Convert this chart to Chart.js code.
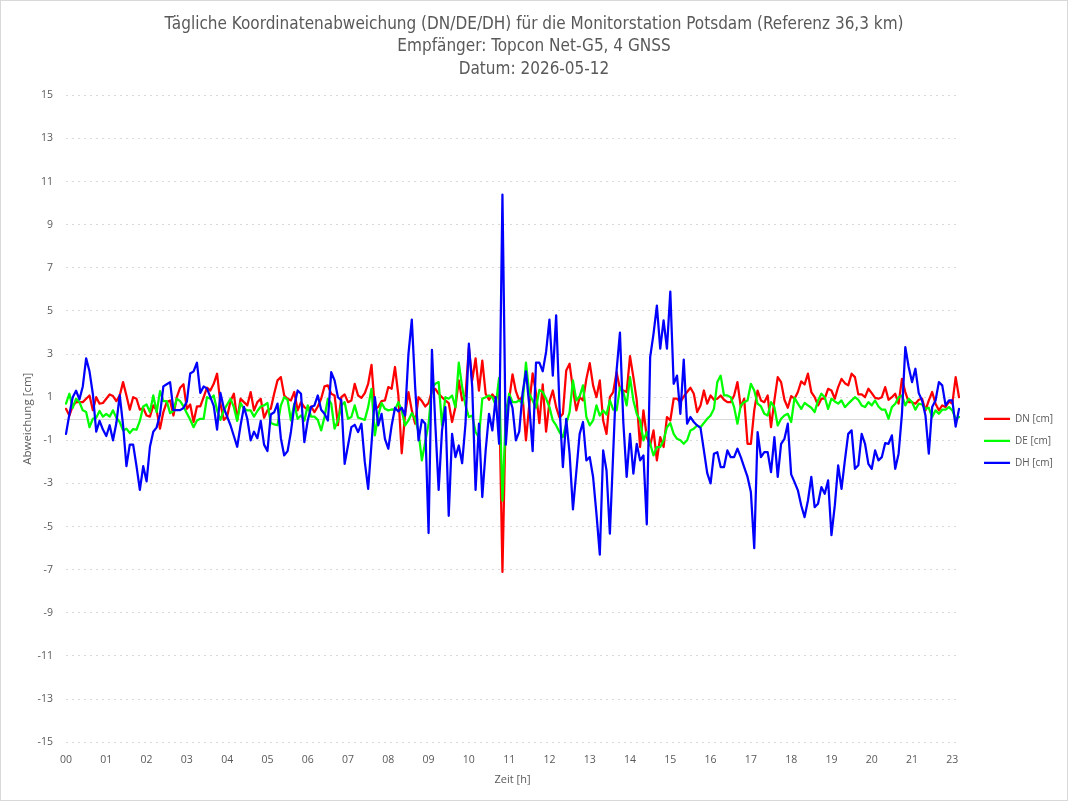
<!DOCTYPE html>
<html>
<head>
<meta charset="utf-8">
<script src="https://cdn.jsdelivr.net/npm/chart.js@4"></script>
<style>
  html, body { margin: 0; padding: 0; background: #fff; }
  #wrap { width: 1068px; height: 801px; box-sizing: border-box; border: 1px solid #d9d9d9; position: relative; }
  canvas { display: block; }
</style>
</head>
<body>
<div id="wrap"><canvas id="devChart" width="1066" height="799"></canvas></div>
<script>
// Zeitachse: 5-Minuten-Epochen, Stunde 22 fehlt in den Daten
const hours = ['00','01','02','03','04','05','06','07','08','09','10','11','12','13','14','15','16','17','18','19','20','21'];
const minutes = ['00','05','10','15','20','25','30','35','40','45','50','55'];
const lastHourEpochs = ['23:00','23:05','23:10'];

const timeLabels = [];
hours.forEach(h => minutes.forEach(m => timeLabels.push(h + ':' + m)));
lastHourEpochs.forEach(t => timeLabels.push(t));

// Abweichungen in cm
const dn = [
  0.46, 0.15, 0.6, 0.77, 0.77, 0.77, 0.93, 1.08, 0.4, 1.0, 0.7, 0.73,
  0.93, 1.13, 1.05, 0.82, 1.08, 1.7, 1.08, 0.42, 1.0, 0.93, 0.42, 0.5,
  0.15, 0.1, 0.62, 0.39, -0.46, 0.31, 0.77, 0.85, 0.15, 1.0, 1.44, 1.6,
  0.46, 0.66, -0.15, 0.57, 0.57, 1.0, 1.44, 1.31, 1.62, 2.09, 0.7, -0.05,
  0.1, 0.82, 1.16, -0.05, 0.93, 0.77, 0.62, 1.24, 0.39, 0.77, 0.93, 0.05,
  0.39, 0.46, 1.16, 1.78, 1.93, 1.08, 0.93, 0.85, 1.24, 0.39, 0.77, 0.54,
  0.42, 0.57, 0.31, 0.57, 0.93, 1.5, 1.55, 1.16, 1.08, -0.3, 1.0, 1.13,
  0.77, 0.85, 1.62, 1.08, 0.97, 1.19, 1.62, 2.5, 0.46, 0.54, 0.82, 0.85,
  1.47, 1.39, 2.4, 1.08, -1.6, 0.2, 1.24, 0.39, -0.23, 1.0, 0.82, 0.57,
  0.73, 1.31, 1.39, 1.16, 1.0, 0.85, 0.73, -0.15, 0.54, 1.78, 0.85, 1.08,
  3.3, 1.78, 2.8, 1.31, 2.7, 1.16, 0.88, 1.13, 0.93, 1.24, -7.1, 0.36,
  0.9, 2.06, 1.28, 0.85, 1.05, -1.0, 0.66, 2.1, 1.2, -0.2, 1.6, -0.6,
  0.8, 1.31, 0.54, 0.05, 0.23, 2.24, 2.55, 1.39, 0.39, 1.0, 0.85, 1.85,
  2.58, 1.55, 1.0, 1.78, -0.08, -0.7, 1.0, 1.24, 2.16, 1.39, 1.31, 1.24,
  2.9, 1.93, 0.85, -1.31, 0.39, -0.85, -1.24, -0.54, -1.93, -0.85, -1.31, 0.08,
  -0.08, 0.93, 0.93, 0.77, 1.04, 1.24, 1.44, 1.16, 0.31, 0.62, 1.31, 0.7,
  1.08, 0.88, 0.93, 1.08, 0.88, 0.77, 0.77, 1.08, 1.7, 0.54, 0.93, -1.16,
  -1.16, 0.39, 1.31, 0.85, 0.77, 1.08, -0.39, 0.85, 1.93, 1.7, 0.88, 0.51,
  1.05, 0.93, 1.24, 1.73, 1.59, 2.09, 1.24, 1.0, 0.62, 0.93, 0.93, 1.39,
  1.31, 0.93, 1.47, 1.85, 1.65, 1.55, 2.09, 1.93, 1.13, 1.13, 1.0, 1.39,
  1.19, 0.97, 0.93, 1.0, 1.47, 0.88, 1.0, 1.16, 0.7, 1.85, 1.24, 0.77,
  0.77, 0.7, 0.88, 0.93, 0.39, 0.85, 1.24, 0.7, 0.39, 0.62, 0.54, 0.8,
  0.7, 1.93, 1.0
];
const de = [
  0.7, 1.16, 0.5, 0.93, 0.77, 0.39, 0.31, -0.39, 0, 0.05, 0.36, 0.1,
  0.23, 0.1, 0.39, 0.05, -0.15, -0.54, -0.46, -0.66, -0.48, -0.51, -0.1, 0.57,
  0.66, 0.31, 1.08, 0.31, 1.28, 0.82, 0.82, 0.26, 0.36, 0.93, 0.82, 0.57,
  0.26, -0.05, -0.39, -0.08, 0, 0, 1.0, 0.93, 1.08, 0.39, -0.05, 0.39,
  0.66, 0.93, 0.54, -0.1, 0.73, 0.46, 0.39, 0.39, 0.1, 0.36, 0.57, 0.62,
  0.73, -0.2, -0.26, -0.3, 0.62, 1.0, 0.88, -0.08, 0.7, 0, 0.15, -0.08,
  0.62, 0.1, 0.1, -0.05, -0.54, 0.08, 0.93, 0.7, -0.46, -0.08, 0.62, 0.77,
  0, 0.08, 0.62, 0.05, 0, -0.05, 0.54, 1.39, -0.77, 0.15, 0.73, 0.46,
  0.39, 0.43, 0.42, 0.77, 0.39, -0.31, -0.08, 0.26, 0, -0.62, -1.93, -1.08,
  -0.23, 1.47, 1.62, 1.7, -0.31, 1.0, 0.93, 1.08, 0.54, 2.6, 1.47, 0.62,
  0.08, 0.15, -0.62, -0.85, 0.93, 1.0, 1.08, 1.0, 0.62, 1.9, -3.8, 0.15,
  1.16, 0.77, 0.77, 0.85, 0.7, 2.6, 1.16, 0.85, 0.51, 1.34, 1.24, 0.93,
  0.54, -0.08, -0.31, -0.62, -0.85, -0.23, 0.31, 1.78, 0.85, 1.04, 1.55, 0.08,
  -0.31, -0.08, 0.62, 0.15, 0.39, 0.2, 0.85, 0.42, 0.39, 1.44, 1.24, 0.62,
  1.93, 0.85, 0.23, -0.08, -1.0, -0.62, -1.16, -1.7, -1.31, -1.31, -1.0, -0.39,
  -0.2, -0.7, -0.93, -1.0, -1.16, -1.0, -0.54, -0.46, -0.31, -0.39, -0.2, 0,
  0.15, 0.46, 1.7, 2.0, 1.08, 1.08, 1.0, 0.54, -0.23, 0.62, 0.77, 0.85,
  1.62, 1.31, 0.7, 0.57, 0.23, 0.15, 0.77, 0.54, -0.31, 0, 0.15, 0.23,
  -0.15, 0.97, 0.7, 0.46, 0.73, 0.62, 0.51, 0.31, 0.85, 1.16, 1.0, 0.46,
  0.93, 0.8, 0.7, 0.85, 0.54, 0.7, 0.85, 1.0, 0.88, 0.62, 0.54, 0.77,
  0.62, 0.85, 0.57, 0.42, 0.42, 0, 0.54, 0.7, 1.0, 1.08, 0.62, 0.93,
  0.77, 0.42, 0.7, 0.66, 0.46, 0.51, 0.08, 0.39, 0.23, 0.42, 0.42, 0.54,
  0.39, 0, 0.08
];
const dh = [
  -0.7, 0.2, 1.0, 1.3, 0.9, 1.5, 2.8, 2.2, 1.15, -0.6, -0.1, -0.5,
  -0.8, -0.3, -1.0, -0.2, 1.1, -0.3, -2.2, -1.2, -1.2, -2.2, -3.3, -2.2,
  -2.9, -1.3, -0.6, -0.4, 0.2, 1.5, 1.6, 1.7, 0.4, 0.4, 0.4, 0.5,
  0.8, 2.1, 2.2, 2.6, 1.2, 1.5, 1.4, 1.0, 0.6, -0.5, 1.2, 0.5,
  0.1, -0.3, -0.8, -1.3, -0.3, 0.55, 0, -1.0, -0.6, -0.9, -0.1, -1.2,
  -1.5, 0.2, 0.3, 0.7, -0.9, -1.7, -1.5, -0.6, 0.6, 1.31, 1.16, -1.08,
  -0.08, 0.54, 0.62, 1.08, 0.42, 0.23, -0.08, 2.16, 1.78, 1.0, 0.85, -2.09,
  -1.24, -0.39, -0.28, -0.62, -0.23, -2.0, -3.25, -1.16, 1.0, -0.31, 0.23, -0.93,
  -1.39, -0.31, 0.51, 0.34, 0.51, 0.15, 3.0, 4.6, 1.47, -1.0, -0.05, -0.23,
  -5.3, 3.2, -0.23, -3.3, -0.54, 0.54, -4.5, -0.7, -1.78, -1.24, -2.06, -0.23,
  3.48, 1.47, -3.3, -0.23, -3.63, -1.47, 0.23, -0.54, 1.0, -1.16, 10.4, -1.2,
  1.0, 0.5, -1.0, -0.6, 1.2, 2.2, 0.6, -1.5, 2.6, 2.6, 2.2, 3.1,
  4.6, 2.0, 4.8, 0.54, -2.24, 0, -1.62, -4.2, -2.47, -0.7, -0.15, -1.93,
  -1.78, -2.7, -4.4, -6.3, -1.47, -2.4, -5.33, -1.55, 2.24, 4.0, -0.15, -2.7,
  -0.7, -2.55, -1.16, -1.93, -1.7, -4.9, 2.86, 3.94, 5.25, 3.25, 4.56, 3.25,
  5.9, 1.62, 2.0, 0.23, 2.74, -0.23, 0.08, -0.15, -0.31, -0.42, -1.47, -2.52,
  -3.0, -1.62, -1.55, -2.24, -2.24, -1.47, -1.78, -1.78, -1.39, -1.78, -2.24, -2.7,
  -3.4, -6.0, -0.62, -1.78, -1.55, -1.55, -2.47, -0.85, -2.7, -1.16, -0.93, -0.23,
  -2.58, -2.94, -3.32, -4.02, -4.56, -3.79, -2.7, -4.1, -3.94, -3.17, -3.48, -2.86,
  -5.4, -4.02, -2.16, -3.25, -1.93, -0.7, -0.54, -2.32, -2.16, -0.7, -1.16, -2.09,
  -2.32, -1.47, -1.93, -1.78, -1.13, -1.16, -0.77, -2.32, -1.62, 0.23, 3.32, 2.4,
  1.7, 2.32, 1.19, 0.85, 0.15, -1.62, 0.54, 0.85, 1.7, 1.55, 0.62, 0.85,
  0.85, -0.36, 0.46
];

const yMin = -15, yMax = 15, yStep = 2;
const textGrey = '#595959';
const uiFont = '"Open Sans", sans-serif';

// durchgezogene Nulllinie
const zeroLine = {
  id: 'zeroLine',
  beforeDatasetsDraw(chart) {
    const { ctx, chartArea, scales } = chart;
    const y = Math.round(scales.y.getPixelForValue(0)) + 0.5;
    ctx.save();
    ctx.strokeStyle = '#d9d9d9';
    ctx.lineWidth = 1;
    ctx.beginPath();
    ctx.moveTo(chartArea.left - 2, y);
    ctx.lineTo(chartArea.right, y);
    ctx.stroke();
    ctx.restore();
  }
};

const lineStyle = {
  borderWidth: 2.25,
  pointRadius: 0,
  tension: 0,
  borderJoinStyle: 'round',
  borderCapStyle: 'round',
  fill: false
};

const ctx = document.getElementById('devChart').getContext('2d');
new Chart(ctx, {
  type: 'line',
  data: {
    labels: timeLabels,
    datasets: [
      { label: 'DN [cm]', data: dn, borderColor: '#ff0000', backgroundColor: '#ff0000', order: 2, ...lineStyle },
      { label: 'DE [cm]', data: de, borderColor: '#00ff00', backgroundColor: '#00ff00', order: 1, ...lineStyle },
      { label: 'DH [cm]', data: dh, borderColor: '#0000ff', backgroundColor: '#0000ff', order: 0, ...lineStyle }
    ]
  },
  options: {
    responsive: false,
    animation: false,
    layout: { padding: { left: 4, right: 4, top: 4, bottom: 10 } },
    plugins: {
      title: {
        display: true,
        text: [
          'Tägliche Koordinatenabweichung (DN/DE/DH) für die Monitorstation Potsdam (Referenz 36,3 km)',
          'Empfänger: Topcon Net-G5, 4 GNSS',
          'Datum: 2026-05-12'
        ],
        color: textGrey,
        font: { family: '"Liberation Sans Narrow", "DejaVu Sans Condensed", "Open Sans", sans-serif', size: 17, weight: 'normal', lineHeight: 1.32 },
        padding: { top: 8, bottom: 15 }
      },
      legend: {
        position: 'right',
        fullSize: false,
        // leerer Titel schiebt die Einträge etwas unter die Mitte
        title: { display: true, text: ' ', font: { size: 10 }, padding: 16 },
        labels: {
          usePointStyle: true,
          pointStyle: 'line',
          pointStyleWidth: 26,
          boxHeight: 10,
          color: textGrey,
          font: { family: uiFont, size: 10 },
          padding: 12,
          sort: (a, b) => a.datasetIndex - b.datasetIndex
        }
      },
      tooltip: { enabled: false }
    },
    scales: {
      x: {
        type: 'category',
        grid: { display: false },
        border: { display: false },
        ticks: {
          autoSkip: false,
          maxRotation: 0,
          color: textGrey,
          font: { family: uiFont, size: 10.5 },
          padding: 4,
          callback: function (value) {
            const lbl = this.getLabelForValue(value);
            return lbl.endsWith(':00') ? lbl.slice(0, 2) : '';
          }
        },
        title: {
          display: true,
          text: 'Zeit [h]',
          color: textGrey,
          font: { family: uiFont, size: 11 },
          padding: { top: 2 }
        }
      },
      y: {
        min: yMin,
        max: yMax,
        border: { display: false, dash: [2, 4] },
        grid: { color: '#d9d9d9', drawTicks: false },
        ticks: {
          stepSize: yStep,
          color: textGrey,
          font: { family: uiFont, size: 10.5 },
          padding: 13
        },
        title: {
          display: true,
          text: 'Abweichung [cm]',
          color: textGrey,
          font: { family: uiFont, size: 11.5 },
          padding: { top: 16, bottom: 0 }
        },
        afterFit(scale) { scale.width = 61; }
      },
      // unsichtbarer Abstandshalter zwischen Diagramm und Legende
      gap: {
        type: 'linear',
        position: 'right',
        grid: { display: false },
        border: { display: false },
        ticks: { display: false },
        afterFit(scale) { scale.width = 13; }
      }
    }
  },
  plugins: [zeroLine]
});
</script>
</body>
</html>
